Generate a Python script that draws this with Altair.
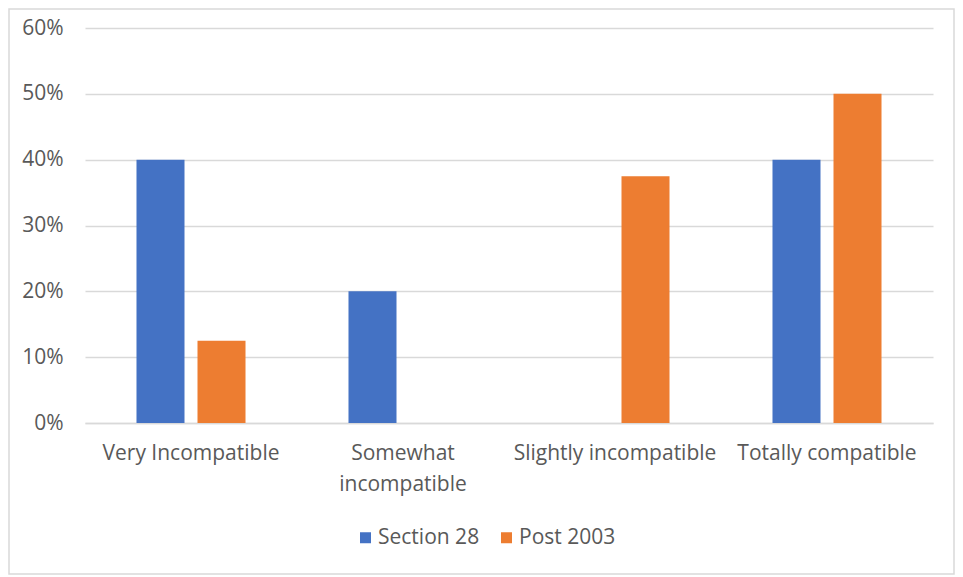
import altair as alt
import pandas as pd

categories = ["Very Incompatible", "Somewhat incompatible", "Slightly incompatible", "Totally compatible"]
series_names = ["Section 28", "Post 2003"]
section28 = [0.40, 0.20, 0.0, 0.40]
post2003 = [0.125, 0.0, 0.375, 0.50]
colors = ["#4472C4", "#ED7D31"]

rows = []
for c, a, b in zip(categories, section28, post2003):
    rows.append({"cat": c, "series": series_names[0], "value": a})
    rows.append({"cat": c, "series": series_names[1], "value": b})
df = pd.DataFrame(rows)

FONT = "Open Sans"
GREY = "#595959"
FS = 21

bars = alt.Chart(df).mark_bar().encode(
    x=alt.X("cat:N", sort=categories, title=None,
            scale=alt.Scale(paddingInner=0, paddingOuter=0),
            axis=alt.Axis(labelAngle=0, labelPadding=19, ticks=False,
                          domainColor="#d9d9d9", domainWidth=1.5,
                          labelFontSize=FS, labelColor=GREY, labelFont=FONT,
                          labelLineHeight=31, labelLimit=300,
                          labelExpr="datum.value == 'Somewhat incompatible' ? ['Somewhat', 'incompatible'] : datum.label")),
    xOffset=alt.XOffset("series:N", sort=series_names,
                        scale=alt.Scale(paddingInner=0.213, paddingOuter=0.844)),
    y=alt.Y("value:Q", title=None,
            scale=alt.Scale(domain=[0, 0.6]),
            axis=alt.Axis(format=".0%", values=[0, 0.1, 0.2, 0.3, 0.4, 0.5, 0.6],
                          domain=False, ticks=False, labelPadding=22,
                          gridColor="#d9d9d9", gridWidth=1.5,
                          labelFontSize=FS, labelColor=GREY, labelFont=FONT)),
    color=alt.Color("series:N", sort=series_names,
                    scale=alt.Scale(domain=series_names, range=colors),
                    legend=alt.Legend(title=None, orient="none", direction="horizontal",
                                      legendX=270, legendY=499,
                                      symbolType="square", symbolSize=121,
                                      symbolStrokeWidth=0, labelFontSize=FS,
                                      labelColor=GREY, labelFont=FONT,
                                      labelOffset=2, columnPadding=16)),
)

border = alt.Chart(pd.DataFrame({"a": [0]})).mark_rect(
    fill=None, stroke="#d9d9d9", strokeWidth=1.5
).encode(
    x=alt.value(-76), x2=alt.value(869), y=alt.value(-19), y2=alt.value(546)
)

chart = alt.layer(bars, border).properties(
    width=848, height=395,
    padding={"left": 77, "top": 20, "right": 22, "bottom": 152},
    autosize=alt.AutoSizeParams(type="none"),
    background="white",
).configure_view(stroke=None)

chart.save("out.html", embed_options={"renderer": "svg", "actions": False})
